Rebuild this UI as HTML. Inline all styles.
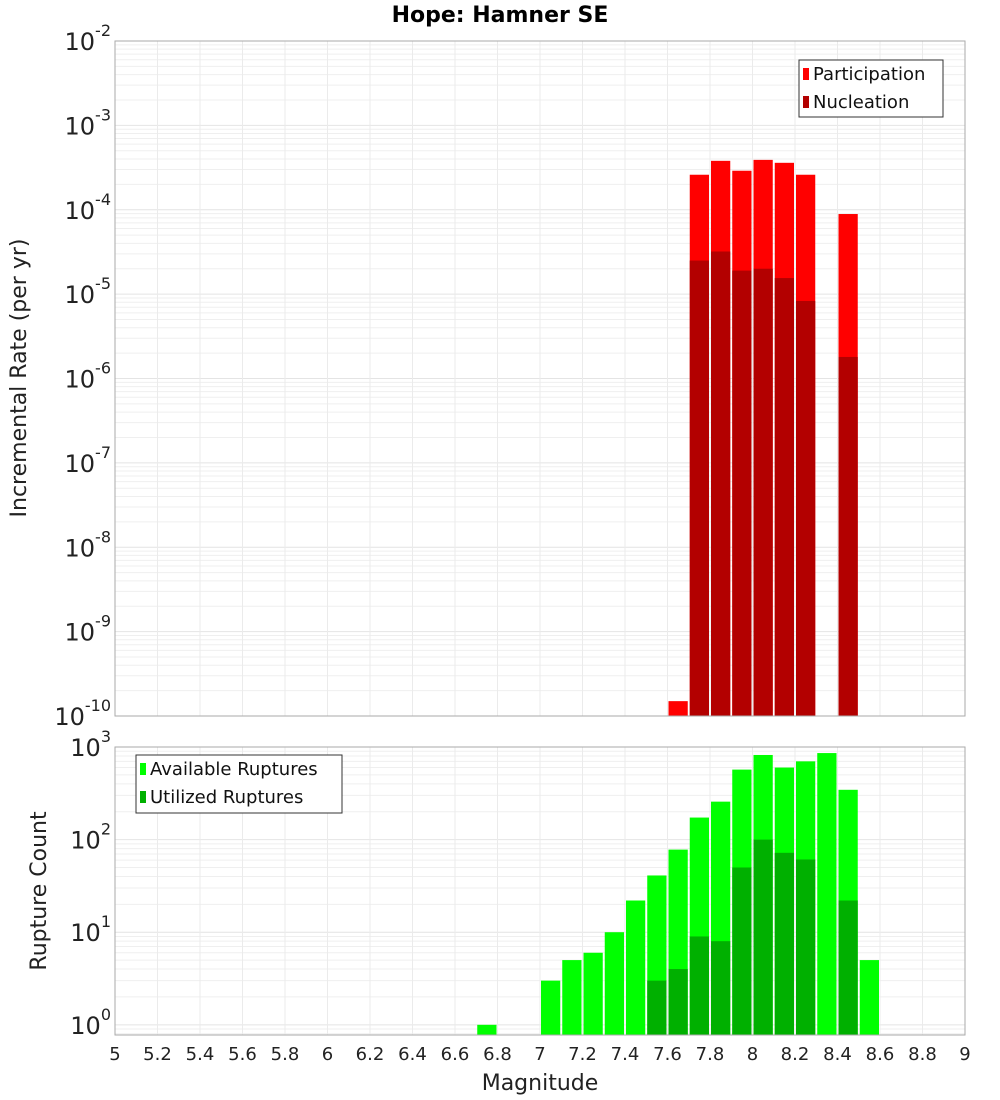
<!DOCTYPE html>
<html><head><meta charset="utf-8"><style>
body{margin:0;background:#fff;}
svg{display:block;font-family:"DejaVu Sans","Liberation Sans",sans-serif;}
</style></head><body>
<svg id="c" width="1000" height="1100"></svg>
<script>
const binStarts=[6.7,6.8,6.9,7.0,7.1,7.2,7.3,7.4,7.5,7.6,7.7,7.8,7.9,8.0,8.1,8.2,8.3,8.4,8.5];
const partBins=[7.6,7.7,7.8,7.9,8.0,8.1,8.2,8.4];
const partVals=[1.5e-10,2.6e-4,3.8e-4,2.9e-4,3.9e-4,3.6e-4,2.6e-4,8.9e-5];
const nuclBins=[7.7,7.8,7.9,8.0,8.1,8.2,8.4];
const nuclVals=[2.5e-5,3.2e-5,1.9e-5,2.0e-5,1.55e-5,8.3e-6,1.8e-6];
const availBins=[6.7,7.0,7.1,7.2,7.3,7.4,7.5,7.6,7.7,7.8,7.9,8.0,8.1,8.2,8.3,8.4,8.5];
const availVals=[1,3,5,6,10,22,41,78,173,257,570,820,600,700,860,345,5];
const utilBins=[7.5,7.6,7.7,7.8,7.9,8.0,8.1,8.2,8.4];
const utilVals=[3,4,9,8,50,100,72,61,22];
const xTicks=[5,5.2,5.4,5.6,5.8,6,6.2,6.4,6.6,6.8,7,7.2,7.4,7.6,7.8,8,8.2,8.4,8.6,8.8,9];
const topExps=[-10,-9,-8,-7,-6,-5,-4,-3,-2];
const botExps=[0,1,2,3];

const NS="http://www.w3.org/2000/svg";
const svg=document.getElementById('c');
function el(t,a,p){const e=document.createElementNS(NS,t);for(const k in a)e.setAttribute(k,a[k]);(p||svg).appendChild(e);return e;}
const X0=115,X1=965;
const xs=v=>X0+(v-5)/4*(X1-X0);
const T={top:41,bot:716,lmin:-10,lmax:-2};
const B={top:747,bot:1035,lmin:-0.11,lmax:3.0};
function ys(P,v){const l=Math.log10(v);return P.bot-(l-P.lmin)/(P.lmax-P.lmin)*(P.bot-P.top);}

function panel(P,name){
  const g=el('g',{});
  
  
  el('rect',{x:X0,y:P.top,width:X1-X0,height:P.bot-P.top,fill:'#fff'},g);
  for(let e=Math.floor(P.lmin);e<=Math.ceil(P.lmax);e++){
    for(let m=1;m<10;m++){
      const v=m*Math.pow(10,e);const l=Math.log10(v);
      if(l<P.lmin||l>P.lmax)continue;
      const y=ys(P,v);
      el('line',{x1:X0,x2:X1,y1:y,y2:y,stroke:m==1?'#e4e4e4':'#efefef','stroke-width':1},g);
    }
  }
  xTicks.forEach(t=>{const x=xs(t);el('line',{x1:x,x2:x,y1:P.top,y2:P.bot,stroke:'#ebebeb'},g);});
  return g;
}
function bars(P,bins,vals,color,name){
  const g=el('g',{});
  
  
  bins.forEach((b,i)=>{
    const x1=xs(b)+1,x2=xs(b+0.1)-1;const y=Math.max(ys(P,vals[i]),P.top);
    const r=el('rect',{x:x1,y:y,width:x2-x1,height:P.bot-y,fill:color},g);
    
    
  });
}
function border(P,name){
  const r=el('rect',{x:X0,y:P.top,width:X1-X0,height:P.bot-P.top,fill:'none',stroke:'#aaa'});
  
  
}
function yLabels(P,exps,name){
  exps.forEach(e=>{
    const y=ys(P,Math.pow(10,e));
    const t=el('text',{x:X0-4,y:y+9,'text-anchor':'end','font-size':24,fill:'#222'});
    
    
    const a=el('tspan',{},t);a.textContent='10';
    const b=el('tspan',{dy:-14,'font-size':16},t);b.textContent=String(e);
  });
}
panel(T,'top-plot-area');
bars(T,partBins,partVals,'#ff0000','participation');
bars(T,nuclBins,nuclVals,'#b30000','nucleation');
border(T,'top-plot-border');
yLabels(T,topExps,'top-y-tick-label');
panel(B,'bottom-plot-area');
bars(B,availBins,availVals,'#00ff00','available');
bars(B,utilBins,utilVals,'#00b000','utilized');
border(B,'bottom-plot-border');
yLabels(B,botExps,'bottom-y-tick-label');
xTicks.forEach(t=>{
  const tx=el('text',{x:xs(t),y:1060,'text-anchor':'middle','font-size':18,fill:'#222'});
  
  
  tx.textContent=String(t);
});
function text(x,y,s,attrs,name){const t=el('text',Object.assign({x:x,y:y},attrs));t.textContent=s;return t;}
text(500,22,'Hope: Hamner SE',{'text-anchor':'middle','font-size':22,'font-weight':'bold'},'chart-title');
text(540,1090,'Magnitude',{'text-anchor':'middle','font-size':22,fill:'#222'},'x-axis-title');
text(0,0,'Incremental Rate (per yr)',{'text-anchor':'middle','font-size':22,fill:'#222',transform:'translate(26,378) rotate(-90)'},'top-y-axis-title');
text(0,0,'Rupture Count',{'text-anchor':'middle','font-size':22,fill:'#222',transform:'translate(46,891) rotate(-90)'},'bottom-y-axis-title');
function legend(x,y,w,h,items,name){
  const g=el('g',{});
  el('rect',{x:x,y:y,width:w,height:h,fill:'#fff',stroke:'#333'},g);
  items.forEach((it,i)=>{
    el('rect',{x:x+4,y:y+8+i*28,width:6,height:12,fill:it[1]},g);
    const t=el('text',{x:x+14,y:y+20+i*28,'font-size':18,fill:'#111'},g);t.textContent=it[0];
  });
}
legend(799,60,144,57,[['Participation','#ff0000'],['Nucleation','#b30000']],'top-legend');
legend(136,755,206,58,[['Available Ruptures','#00ff00'],['Utilized Ruptures','#00b000']],'bottom-legend');
</script>
</body></html>
